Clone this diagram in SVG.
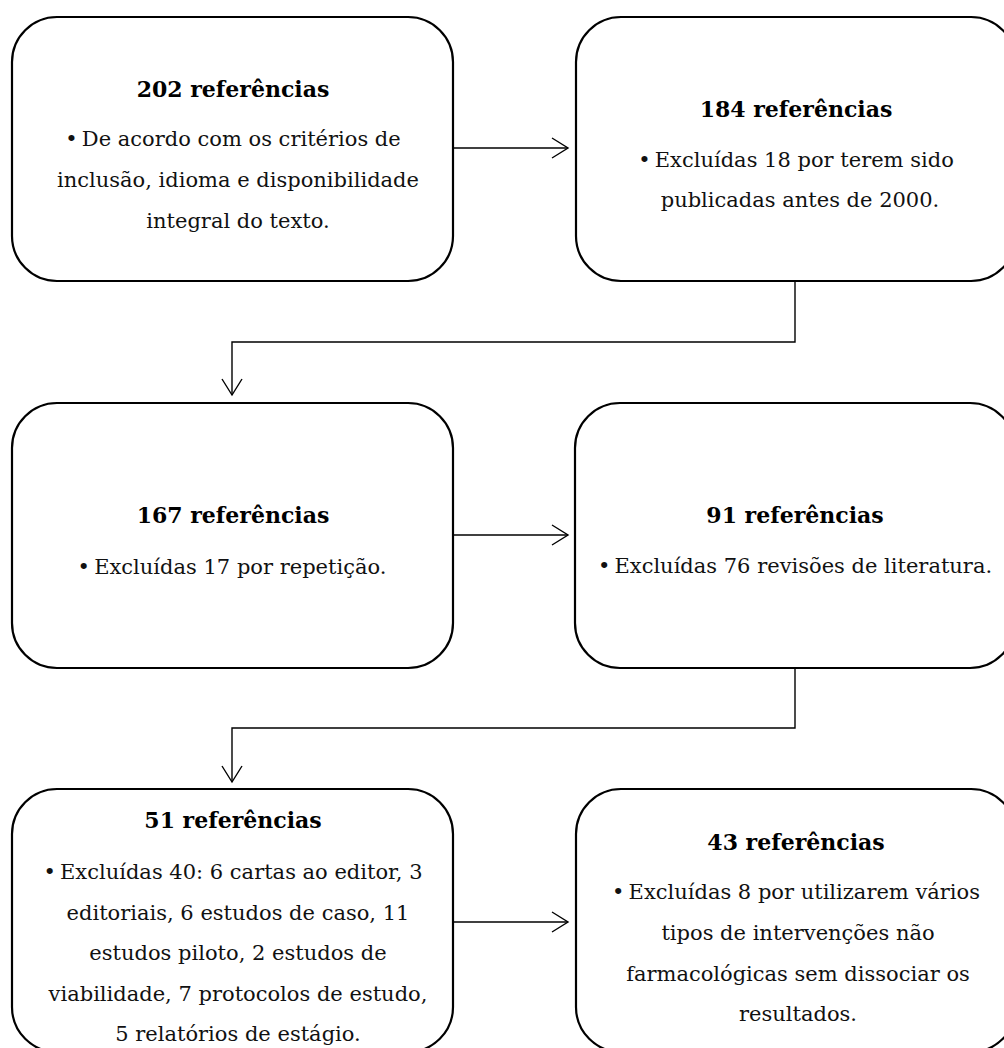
<svg xmlns="http://www.w3.org/2000/svg" width="1004" height="1048" viewBox="0 0 1004 1048">
<style>
.box{fill:#fff;stroke:#000;stroke-width:2.2}
.t{font-family:"DejaVu Serif","Liberation Serif",serif;font-weight:bold;font-size:22px;fill:#000;text-anchor:middle}
.b{font-family:"DejaVu Serif","Liberation Serif",serif;font-size:21px;fill:#111;text-anchor:middle}
.c{fill:none;stroke:#000;stroke-width:1.4}
</style>
<defs>
<marker id="arr" markerWidth="20" markerHeight="24" refX="17" refY="11" orient="auto" markerUnits="userSpaceOnUse">
<path d="M1,1 L17,11 L1,21" fill="none" stroke="#000" stroke-width="1.4"/>
</marker>
</defs>
<rect width="1004" height="1048" fill="#fff"/>
<g id="connectors">
<path class="c" d="M453,148 H568" marker-end="url(#arr)"/>
<path class="c" d="M795,281 V342 H232 V395" marker-end="url(#arr)"/>
<path class="c" d="M453,535 H568" marker-end="url(#arr)"/>
<path class="c" d="M795,668 V728 H232 V782" marker-end="url(#arr)"/>
<path class="c" d="M453,922 H568" marker-end="url(#arr)"/>
</g>
<g id="n1">
<rect class="box" x="12" y="17" width="441" height="264" rx="45"/>
<text class="t" x="233" y="97">202 referências</text>
<text class="b" x="233" y="146">•&#8201;De acordo com os critérios de</text>
<text class="b" x="238" y="187">inclusão, idioma e disponibilidade</text>
<text class="b" x="238" y="228">integral do texto.</text>
</g>
<g id="n2">
<rect class="box" x="576" y="17" width="440" height="264" rx="45"/>
<text class="t" x="796" y="117">184 referências</text>
<text class="b" x="796" y="167">•&#8201;Excluídas 18 por terem sido</text>
<text class="b" x="800" y="207">publicadas antes de 2000.</text>
</g>
<g id="n3">
<rect class="box" x="12" y="403" width="441" height="265" rx="45"/>
<text class="t" x="233" y="523">167 referências</text>
<text class="b" x="232" y="574">•&#8201;Excluídas 17 por repetição.</text>
</g>
<g id="n4">
<rect class="box" x="575" y="403" width="440" height="265" rx="45"/>
<text class="t" x="795" y="523">91 referências</text>
<text class="b" x="795" y="573">•&#8201;Excluídas 76 revisões de literatura.</text>
</g>
<g id="n5">
<rect class="box" x="12" y="789" width="441" height="263" rx="45"/>
<text class="t" x="233" y="828">51 referências</text>
<text class="b" x="233" y="879">•&#8201;Excluídas 40: 6 cartas ao editor, 3</text>
<text class="b" x="238" y="920">editoriais, 6 estudos de caso, 11</text>
<text class="b" x="238" y="960">estudos piloto, 2 estudos de</text>
<text class="b" x="238" y="1001">viabilidade, 7 protocolos de estudo,</text>
<text class="b" x="238" y="1041">5 relatórios de estágio.</text>
</g>
<g id="n6">
<rect class="box" x="576" y="789" width="440" height="263" rx="45"/>
<text class="t" x="796" y="850">43 referências</text>
<text class="b" x="796" y="899">•&#8201;Excluídas 8 por utilizarem vários</text>
<text class="b" x="798" y="940">tipos de intervenções não</text>
<text class="b" x="798" y="981">farmacológicas sem dissociar os</text>
<text class="b" x="798" y="1021">resultados.</text>
</g>
</svg>
